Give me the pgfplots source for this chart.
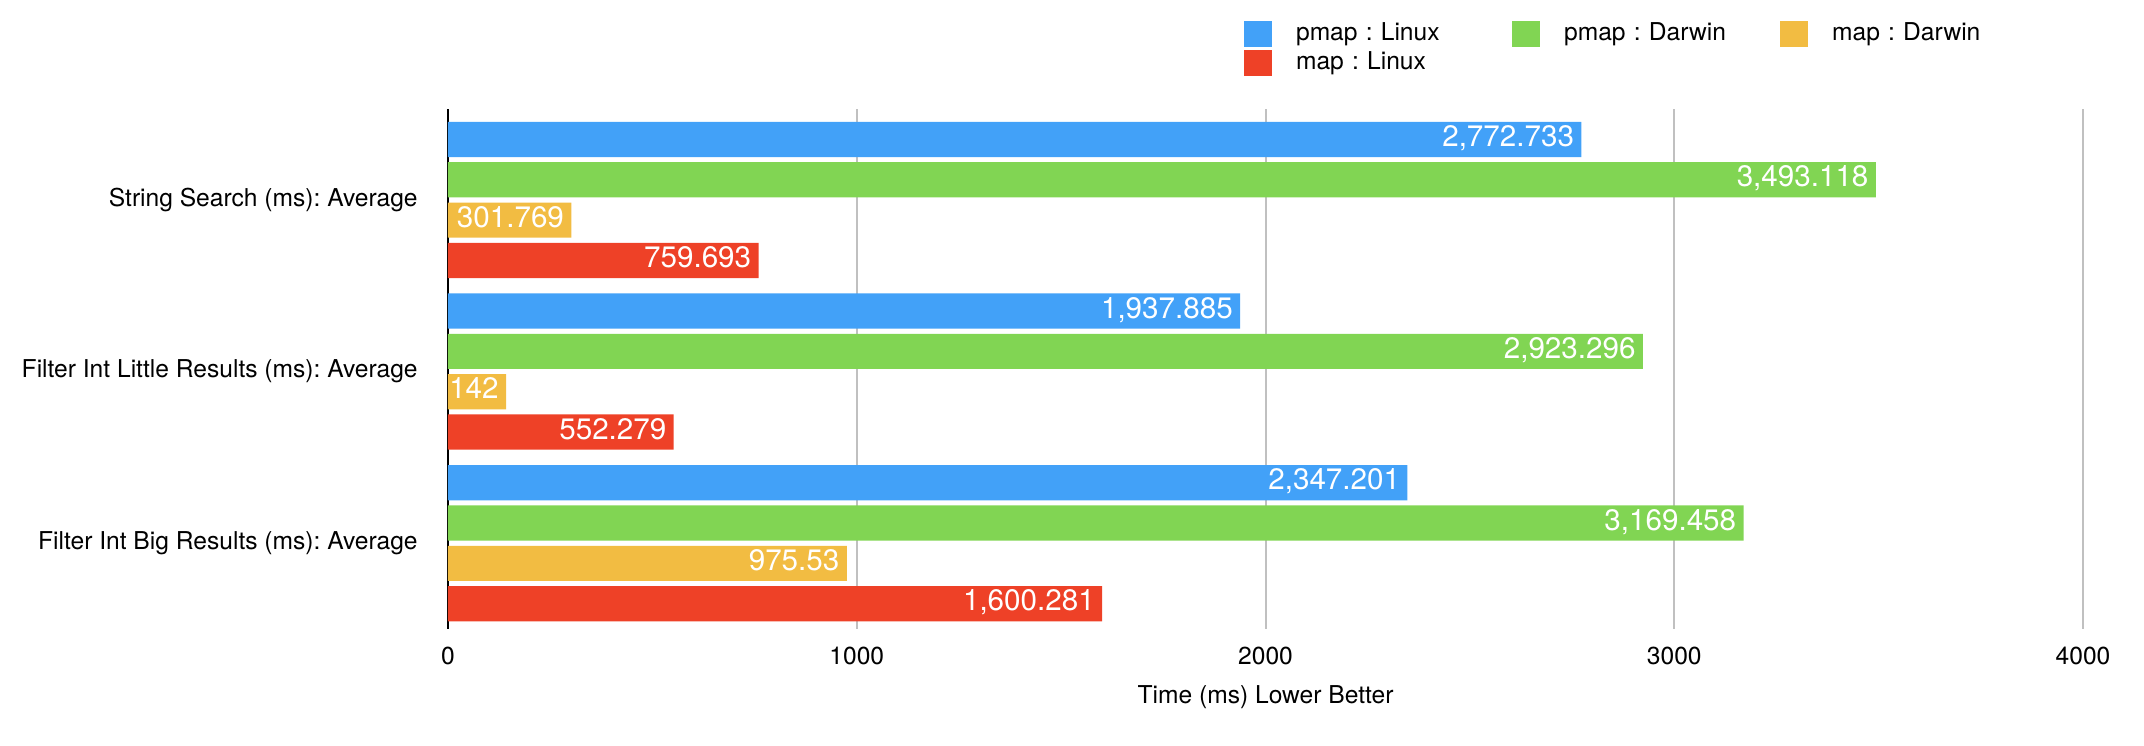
\documentclass[border=0pt]{standalone}
\usepackage{fontspec}
\setmainfont{TeX Gyre Heros}
\usepackage{pgfplots}
\pgfplotsset{compat=1.18}
\definecolor{cBlue}{HTML}{42A1F8}
\definecolor{cGreen}{HTML}{81D553}
\definecolor{cYellow}{HTML}{F2BC42}
\definecolor{cRed}{HTML}{EE4127}
\definecolor{cGrid}{HTML}{C0C0C0}
\newcommand{\lblfont}{\fontsize{12.3}{14.8}\selectfont}
\newcommand{\datfont}{\fontsize{14.8}{17}\selectfont}
\begin{document}
\frenchspacing
\begin{tikzpicture}
\begin{axis}[name=ax,
  scale only axis, width=817.5pt, height=260pt,
  xbar, bar width=0.205,
  xmin=0, xmax=4000,
  ymin=-0.50, ymax=2.53,
  xtick={1000,2000,3000,4000},
  extra x ticks={0},
  extra x tick style={major grid style={black, line width=1pt}},
  ytick={0,1,2},
  yticklabels={Filter Int Big Results (ms): Average, Filter Int Little Results (ms): Average, String Search (ms): Average},
  xmajorgrids, major grid style={cGrid, line width=1pt},
  major tick length=0pt,
  axis line style={draw=none},
  /pgf/number format/assume math mode=true,
  /pgf/number format/1000 sep={},
  tick label style={font=\lblfont},
  xticklabel style={anchor=north, inner sep=0pt, yshift=-9pt},
  yticklabel style={anchor=east, inner sep=0pt, xshift=-15pt},
  xlabel={Time (ms) Lower Better},
  xlabel style={font=\lblfont, at={(axis description cs:0.5,0)}, anchor=center, yshift=-34pt},
  point meta=explicit symbolic,
  nodes near coords,
  nodes near coords align={anchor=east},
  every node near coord/.append style={anchor=east, xshift=-3.5pt, inner sep=0pt, text=white, font=\datfont, text height=0.72em, text depth=0pt},
  legend columns=3,
  legend cell align=left,
  legend style={at={(0.4869,1.1692)}, anchor=north west, draw=none, fill=none, inner sep=0pt, outer sep=0pt, row sep=1.5pt, column sep=0pt, font=\lblfont, nodes={inner sep=0pt, text width=108pt, align=left, text height=9pt, text depth=3pt}},
  legend image code/.code={\fill[#1] (0pt,-6.5pt) rectangle (14pt,6.5pt); \path (26pt,0pt);},
]
\addplot[fill=cBlue, draw=none, bar shift=0.3525] coordinates {(2772.733,2) [2,772.733] (1937.885,1) [1,937.885] (2347.201,0) [2,347.201]};
\addlegendentry{pmap : Linux}
\addplot[fill=cGreen, draw=none, bar shift=0.1175] coordinates {(3493.118,2) [3,493.118] (2923.296,1) [2,923.296] (3169.458,0) [3,169.458]};
\addlegendentry{pmap : Darwin}
\addplot[fill=cYellow, draw=none, bar shift=-0.1175] coordinates {(301.769,2) [301.769] (142,1) [142] (975.53,0) [975.53]};
\addlegendentry{map : Darwin}
\addplot[fill=cRed, draw=none, bar shift=-0.3525] coordinates {(759.693,2) [759.693] (552.279,1) [552.279] (1600.281,0) [1,600.281]};
\addlegendentry{map : Linux}
\end{axis}
\pgfresetboundingbox
\path[use as bounding box] ([xshift=-224pt,yshift=-58.5pt]ax.south west) rectangle ([xshift=30.5pt,yshift=54.5pt]ax.north east);
\end{tikzpicture}
\end{document}
